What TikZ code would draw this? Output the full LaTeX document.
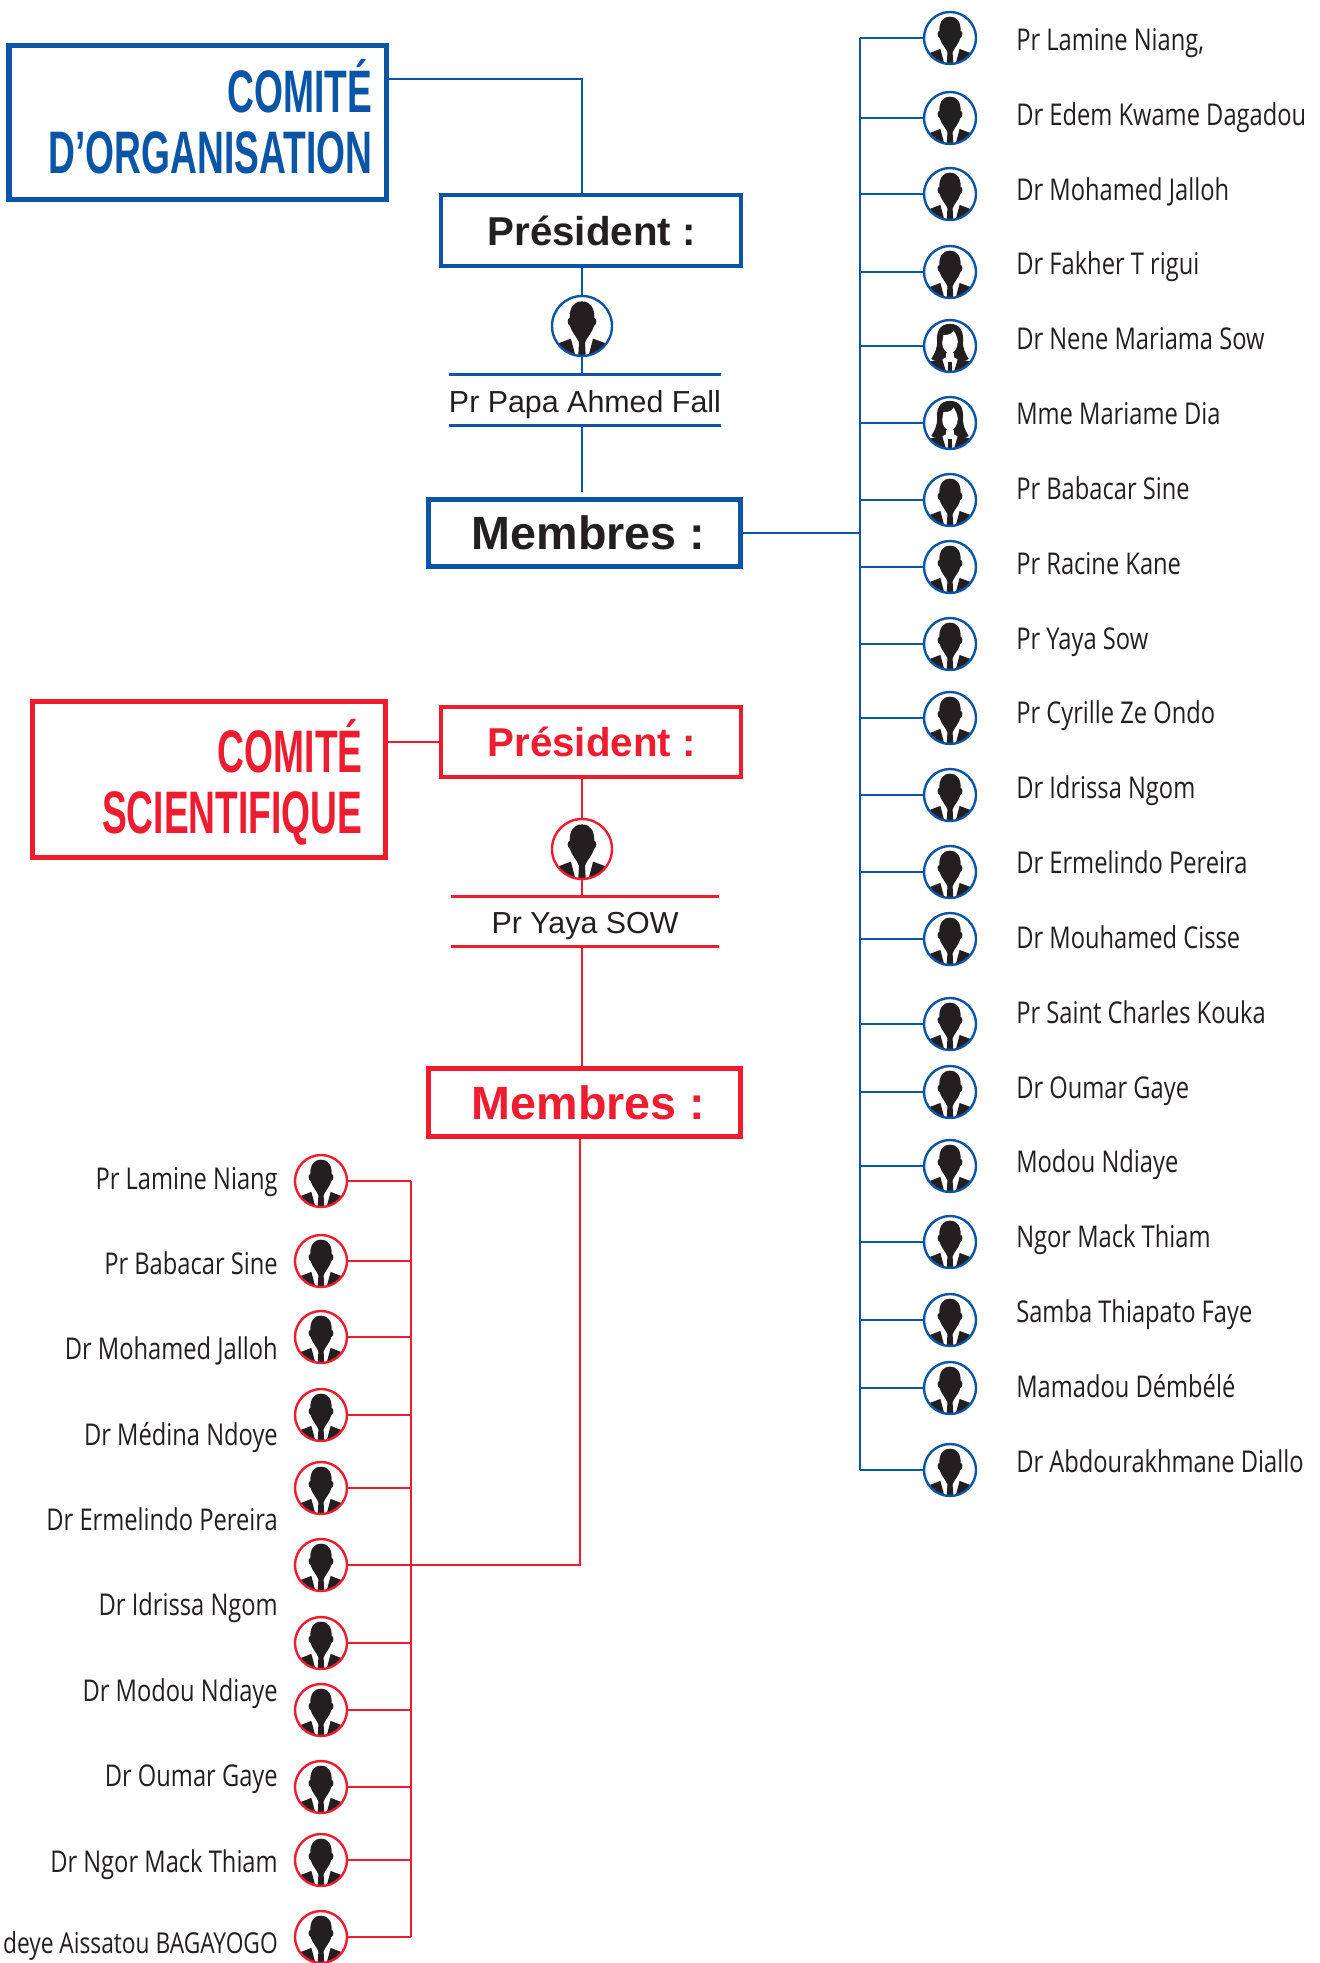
\documentclass[tikz,border=0pt]{standalone}
\usepackage{fontspec}
\setmainfont{Liberation Sans}
\newfontfamily\namefont[FakeStretch=.79]{Open Sans}
\newfontfamily\titlefont[FakeStretch=.62]{Liberation Sans}
\usepackage{tikz}
\definecolor{orgblue}{HTML}{0B55A6}
\definecolor{sciread}{HTML}{ED1C2E}
\definecolor{inkblack}{HTML}{231F20}

% silhouettes, r is the radius of the circle in px
\newcommand{\mansil}[1]{\begin{scope}[shift={(path picture bounding box.center)},x=#1*.75pt,y=#1*.75pt]
\fill[inkblack] (0,.82) .. controls (.28,.82) and (.42,.6) .. (.41,.27) .. controls (.5,.27) and (.5,.05) .. (.4,0) .. controls (.35,-.2) and (.15,-.4) .. (.1,-.55) -- (.13,-1.1) -- (-.13,-1.1) -- (-.1,-.55) .. controls (-.15,-.4) and (-.35,-.2) .. (-.4,0) .. controls (-.5,.05) and (-.5,.27) .. (-.41,.27) .. controls (-.42,.6) and (-.28,.82) .. (0,.82);
\fill[inkblack] (-.9,-.62) -- (-.37,-.42) -- (-.19,-1.1) -- (-.9,-1.1) -- cycle;
\fill[inkblack] (.9,-.62) -- (.37,-.42) -- (.19,-1.1) -- (.9,-1.1) -- cycle;
\end{scope}}
\newcommand{\womansil}[1]{\begin{scope}[shift={(path picture bounding box.center)},x=#1*.75pt,y=#1*.75pt]
\fill[inkblack] (0,.85) .. controls (.4,.85) and (.52,.55) .. (.5,.2) .. controls (.48,-.1) and (.6,-.3) .. (.72,-.5) .. controls (.55,-.62) and (.35,-.58) .. (.2,-.45) -- (-.2,-.45) .. controls (-.35,-.58) and (-.55,-.62) .. (-.72,-.5) .. controls (-.6,-.3) and (-.48,-.1) .. (-.5,.2) .. controls (-.52,.55) and (-.4,.85) .. (0,.85);
\fill[white] (-.25,.42) .. controls (-.05,.4) and (.1,.5) .. (.14,.6) .. controls (.22,.45) and (.3,.3) .. (.3,.15) .. controls (.3,-.1) and (.12,-.3) .. (0,-.3) .. controls (-.14,-.3) and (-.3,-.1) .. (-.3,.12) -- cycle;
\fill[white] (-.16,-.25) rectangle (.16,-.6);
\fill[inkblack] (-.9,-.62) -- (-.3,-.5) -- (-.12,-1.1) -- (-.9,-1.1) -- cycle;
\fill[inkblack] (.9,-.62) -- (.3,-.5) -- (.12,-1.1) -- (.9,-1.1) -- cycle;
\fill[inkblack] (-.07,-.62) -- (.07,-.62) -- (.09,-1.1) -- (-.09,-1.1) -- cycle;
\end{scope}}

\tikzset{
avatar/.style={circle,fill=white,inner sep=0pt,minimum size=#1*.75pt,line width=1.8pt},
blueman/.style={avatar=52,draw=orgblue,path picture={\mansil{26}}},
bluewoman/.style={avatar=52,draw=orgblue,path picture={\womansil{26}}},
redman/.style={avatar=52,draw=sciread,path picture={\mansil{26}}},
namer/.style={anchor=base west,yshift=.2pt,inner sep=0pt,inkblack,font=\namefont\fontsize{22.5}{26}\selectfont},
namel/.style={anchor=base east,yshift=-1pt,inner sep=0pt,inkblack,font=\namefont\fontsize{22.5}{26}\selectfont},
titlebox/.style={draw,line width=3.8pt,inner ysep=0pt,align=right,font=\titlefont\bfseries\fontsize{45}{46}\selectfont},
headbox/.style={draw,line width=2.8pt,inner sep=0pt,font=\bfseries\fontsize{30.2}{34}\selectfont},
membox/.style={draw,line width=3.6pt,inner sep=0pt,font=\bfseries\fontsize{35}{38}\selectfont},
prizename/.style={inner sep=0pt,text height=18.5pt,text depth=0pt,minimum width=201pt,minimum height=37.5pt,inkblack,font=\fontsize{22.8}{26}\selectfont},
linkblue/.style={orgblue,line width=2.1pt},
linkred/.style={sciread,line width=2.1pt},
}

\begin{document}
\begin{tikzpicture}[x=.75pt,y=-.75pt]
\useasboundingbox (0,0) rectangle (1320,1963);

% organisation
\node (CO)[titlebox,orgblue,minimum height=116pt,inner xsep=10.4pt,text width=262pt] at (197.5,122.5) {COMITÉ\\D’ORGANISATION\vspace*{9pt}};
\node (PO)[headbox,draw=orgblue,text=inkblack,minimum width=225pt,minimum height=53pt] at (591,230.5) {\hspace{1pt}Président :};
\node (MO)[membox,draw=orgblue,text=inkblack,minimum width=234pt,minimum height=50pt] at (584.5,533) {\hspace{6pt}Membres :};
\draw (582,326) node[avatar=60,draw=orgblue,path picture={\mansil{30}}] (AO) {};
\node (NO)[prizename] at (585,400) {Pr Papa Ahmed Fall};
\coordinate (c1) at (582,79);
\coordinate (c2) at (582,492);
\coordinate (TB) at (860,38);
\coordinate (TBe) at (860,1470);
\draw[orgblue,line width=2pt] (NO.north west)--(NO.north east) (NO.south west)--(NO.south east);
\draw[linkblue] (CO.east|-c1)--(c1)--(c1|-PO.north);
\draw[linkblue] (c1|-PO.south)--(AO);
\draw[linkblue] (AO)--(c1|-NO.north);
\draw[linkblue] (c1|-NO.south)--(c2);
\draw[linkblue] (MO.east)--(MO.east-|TB);
\draw[linkblue] (TB)--(TBe);

\draw (950,38) node[blueman] (B1) {} (1016,51) node[namer] (NB1) {Pr Lamine Niang,};
\draw (950,118) node[blueman] (B2) {} (1016,126) node[namer] (NB2) {Dr Edem Kwame Dagadou};
\draw (950,194) node[blueman] (B3) {} (1016,201) node[namer] (NB3) {Dr Mohamed Jalloh};
\draw (950,272) node[blueman] (B4) {} (1016,275) node[namer] (NB4) {Dr Fakher T rigui};
\draw (950,346) node[bluewoman] (B5) {} (1016,350) node[namer] (NB5) {Dr Nene Mariama Sow};
\draw (950,423) node[bluewoman] (B6) {} (1016,425) node[namer] (NB6) {Mme Mariame Dia};
\draw (950,500) node[blueman] (B7) {} (1016,500) node[namer] (NB7) {Pr Babacar Sine};
\draw (950,567) node[blueman] (B8) {} (1016,575) node[namer] (NB8) {Pr Racine Kane};
\draw (950,644) node[blueman] (B9) {} (1016,650) node[namer] (NB9) {Pr Yaya Sow};
\draw (950,718) node[blueman] (B10) {} (1016,724) node[namer] (NB10) {Pr Cyrille Ze Ondo};
\draw (950,795) node[blueman] (B11) {} (1016,799) node[namer] (NB11) {Dr Idrissa Ngom};
\draw (950,872) node[blueman] (B12) {} (1016,874) node[namer] (NB12) {Dr Ermelindo Pereira};
\draw (950,939) node[blueman] (B13) {} (1016,949) node[namer] (NB13) {Dr Mouhamed Cisse};
\draw (950,1024) node[blueman] (B14) {} (1016,1024) node[namer] (NB14) {Pr Saint Charles Kouka};
\draw (950,1092) node[blueman] (B15) {} (1016,1099) node[namer] (NB15) {Dr Oumar Gaye};
\draw (950,1166) node[blueman] (B16) {} (1016,1173) node[namer] (NB16) {Modou Ndiaye};
\draw (950,1242) node[blueman] (B17) {} (1016,1248) node[namer] (NB17) {Ngor Mack Thiam};
\draw (950,1320) node[blueman] (B18) {} (1016,1323) node[namer] (NB18) {Samba Thiapato Faye};
\draw (950,1388) node[blueman] (B19) {} (1016,1398) node[namer] (NB19) {Mamadou Démbélé};
\draw (950,1470) node[blueman] (B20) {} (1016,1473) node[namer] (NB20) {Dr Abdourakhmane Diallo};

\draw[linkblue] (B1)--(B1-|TB);
\draw[linkblue] (B2)--(B2-|TB);
\draw[linkblue] (B3)--(B3-|TB);
\draw[linkblue] (B4)--(B4-|TB);
\draw[linkblue] (B5)--(B5-|TB);
\draw[linkblue] (B6)--(B6-|TB);
\draw[linkblue] (B7)--(B7-|TB);
\draw[linkblue] (B8)--(B8-|TB);
\draw[linkblue] (B9)--(B9-|TB);
\draw[linkblue] (B10)--(B10-|TB);
\draw[linkblue] (B11)--(B11-|TB);
\draw[linkblue] (B12)--(B12-|TB);
\draw[linkblue] (B13)--(B13-|TB);
\draw[linkblue] (B14)--(B14-|TB);
\draw[linkblue] (B15)--(B15-|TB);
\draw[linkblue] (B16)--(B16-|TB);
\draw[linkblue] (B17)--(B17-|TB);
\draw[linkblue] (B18)--(B18-|TB);
\draw[linkblue] (B19)--(B19-|TB);
\draw[linkblue] (B20)--(B20-|TB);

% scientifique
\node (CS)[titlebox,sciread,minimum height=116.5pt,inner xsep=17.1pt,text width=230.3pt] at (209,779.5) {\rule{0pt}{44pt}COMITÉ\\SCIENTIFIQUE};
\node (PS)[headbox,draw=sciread,text=sciread,minimum width=225pt,minimum height=53pt] at (591,742) {\hspace{1pt}Président :};
\node (MS)[membox,draw=sciread,text=sciread,minimum width=234pt,minimum height=51pt] at (584.5,1102.5) {\hspace{6pt}Membres :};
\draw (582,849) node[avatar=60,draw=sciread,path picture={\mansil{30}}] (AS) {};
\node (NS)[prizename] at (585,921.5) {Pr Yaya SOW};
\coordinate (d1) at (580,1565);
\coordinate (TR) at (411,1181);
\coordinate (TRe) at (411,1937);
\draw[sciread,line width=2pt] (NS.north west)--(NS.north east) (NS.south west)--(NS.south east);
\draw[linkred] (CS.east|-PS.west)--(PS.west);
\draw[linkred] (AS|-PS.south)--(AS);
\draw[linkred] (AS)--(AS|-NS.north);
\draw[linkred] (AS|-NS.south)--(AS|-MS.north);
\draw[linkred] (d1|-MS.south)--(d1)--(TR|-d1);
\draw[linkred] (TR)--(TRe);

\draw (321,1181) node[redman] (R1) {} (278,1188) node[namel] (NR1) {Pr Lamine Niang};
\draw (321,1261) node[redman] (R2) {} (278,1273) node[namel] (NR2) {Pr Babacar Sine};
\draw (321,1337) node[redman] (R3) {} (278,1358) node[namel] (NR3) {Dr Mohamed Jalloh};
\draw (321,1415) node[redman] (R4) {} (278,1444) node[namel] (NR4) {Dr Médina Ndoye};
\draw (321,1488) node[redman] (R5) {} (278,1529) node[namel] (NR5) {Dr Ermelindo Pereira};
\draw (321,1565) node[redman] (R6) {};
\draw (321,1643) node[redman] (R7) {} (278,1614) node[namel] (NR7) {Dr Idrissa Ngom};
\draw (321,1710) node[redman] (R8) {} (278,1700) node[namel] (NR8) {Dr Modou Ndiaye};
\draw (321,1787) node[redman] (R9) {} (278,1785) node[namel] (NR9) {Dr Oumar Gaye};
\draw (321,1860) node[redman] (R10) {} (278,1871) node[namel] (NR10) {Dr Ngor Mack Thiam};
\draw (321,1937) node[redman] (R11) {} (278,1952) node[namel,font=\namefont\fontsize{21.6}{26}\selectfont] (NR11) {deye Aissatou BAGAYOGO};

\draw[linkred] (R1)--(R1-|TR);
\draw[linkred] (R2)--(R2-|TR);
\draw[linkred] (R3)--(R3-|TR);
\draw[linkred] (R4)--(R4-|TR);
\draw[linkred] (R5)--(R5-|TR);
\draw[linkred] (R6)--(R6-|TR);
\draw[linkred] (R7)--(R7-|TR);
\draw[linkred] (R8)--(R8-|TR);
\draw[linkred] (R9)--(R9-|TR);
\draw[linkred] (R10)--(R10-|TR);
\draw[linkred] (R11)--(R11-|TR);
\end{tikzpicture}
\end{document}
